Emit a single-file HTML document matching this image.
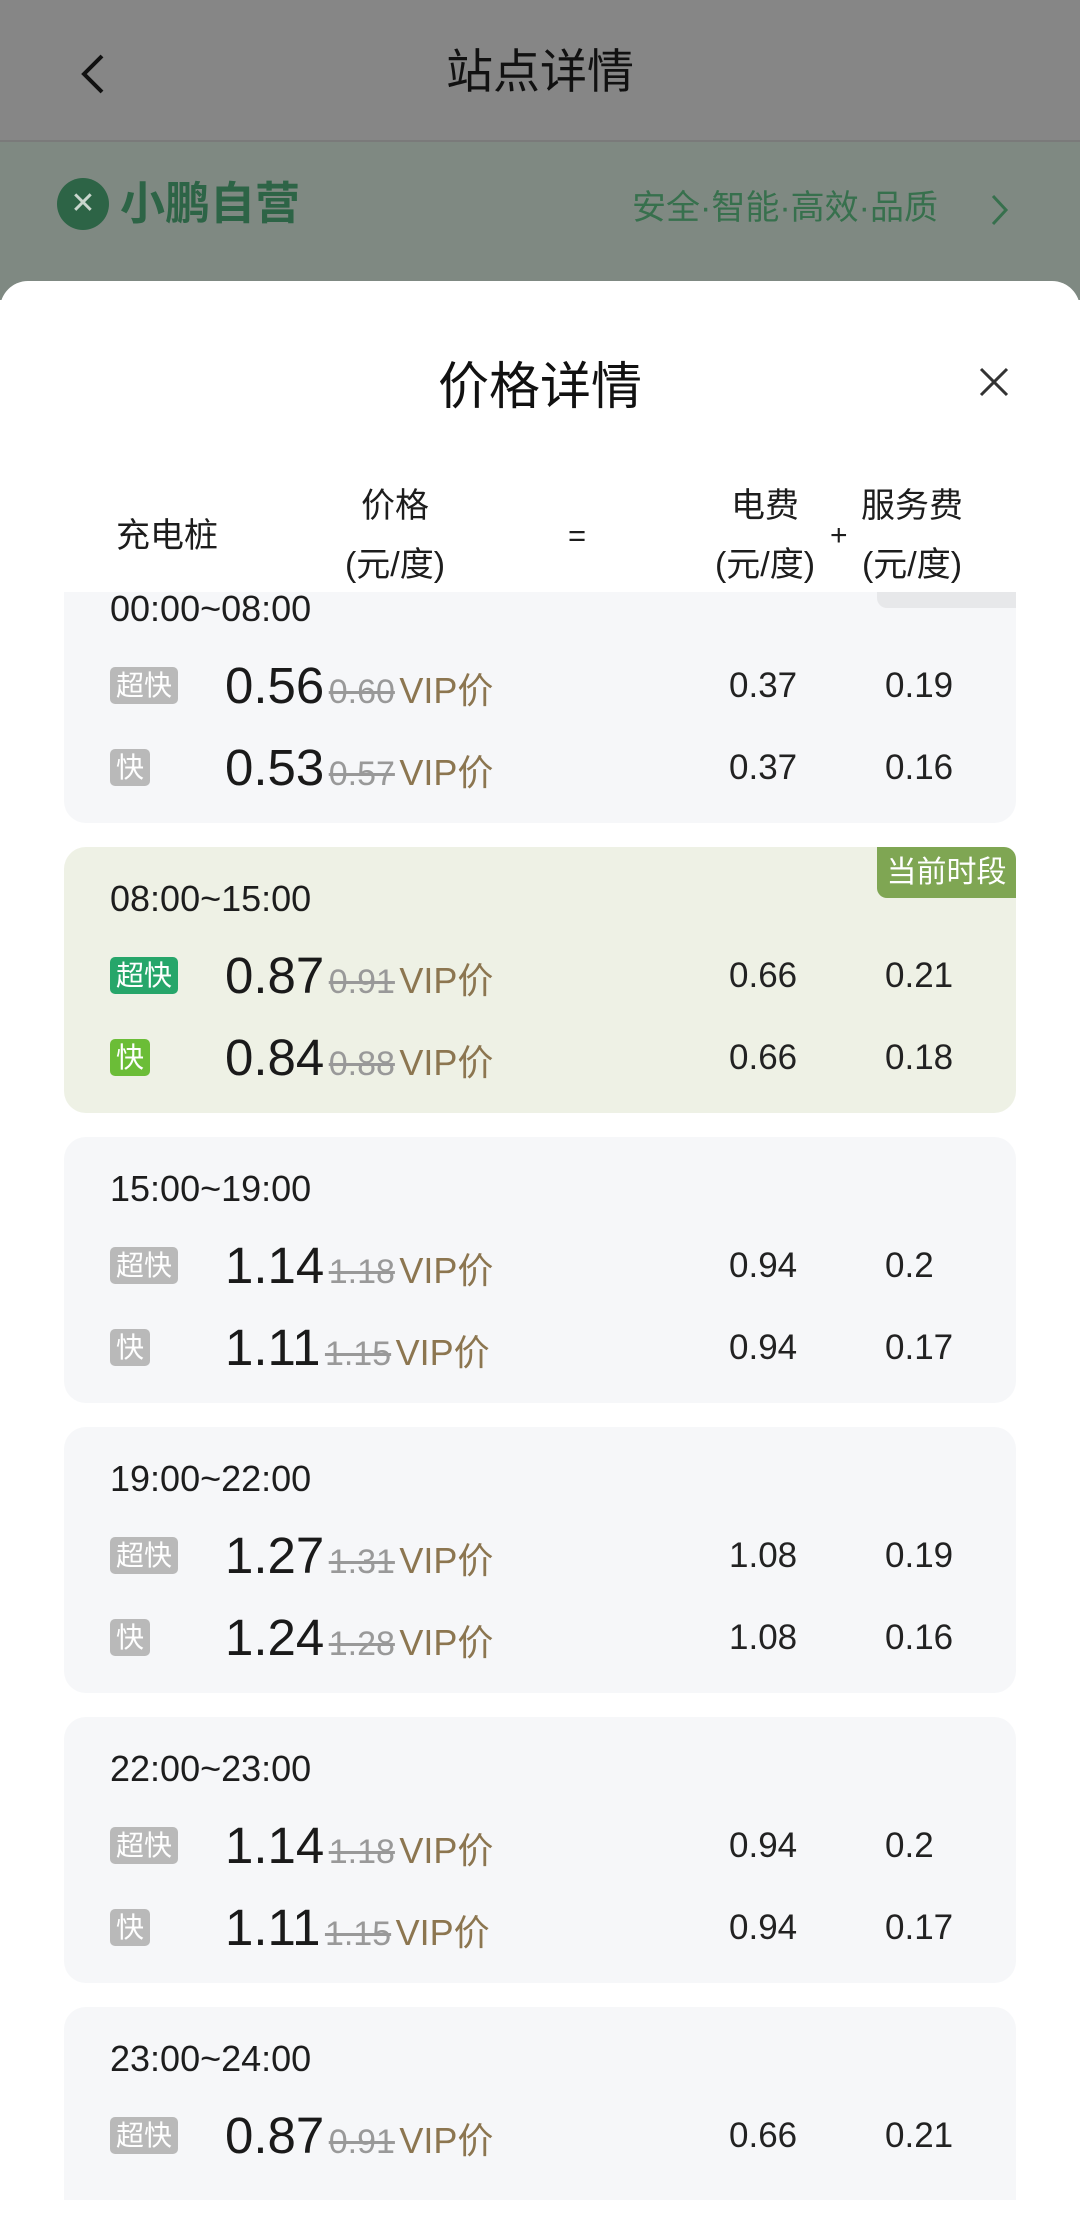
<!DOCTYPE html>
<html style="width:1080px;height:2238px;overflow:hidden"><head><meta charset="utf-8">
<style>
*{margin:0;padding:0;box-sizing:border-box}
body{width:1080px;height:2238px;position:relative;background:#fff;overflow:hidden;font-family:"Liberation Sans","Noto Sans CJK SC",sans-serif;color:#1d1d1d}
.a{position:absolute;white-space:nowrap}
.c{line-height:60px;height:60px}
.card{position:absolute;left:64px;width:952px;height:266px;border-radius:22px;background:#f6f7f9}
.badge{position:absolute;height:37px;line-height:37px;border-radius:5px;color:#fff;font-size:28px;text-align:center;background:#b9b9b9}
.price{font-size:51px;color:#1a1a1a}
.old{font-size:34px;color:#999;text-decoration:line-through}
.vip{font-size:36px;color:#8c7650}
.num{font-size:35px;color:#222}
.t{font-size:36px}
</style></head><body>
<div class="a" style="left:0;top:0;width:1080px;height:141px;background:#868686"></div>
<div class="a" style="left:0;top:140px;width:1080px;height:2px;background:#7a7a7a"></div>
<div class="a" style="left:0;top:142px;width:1080px;height:160px;background:#7f8982"></div>
<svg class="a" style="left:74px;top:52px" width="40" height="44"><polyline points="28,4 10,22 28,40" fill="none" stroke="#111" stroke-width="4"/></svg>
<div class="a c" style="left:0;width:1080px;top:42px;text-align:center;font-size:47px;color:#111">站点详情</div>
<div class="a" style="left:57px;top:178px;width:52px;height:52px;border-radius:50%;background:#2d6446"></div>
<div class="a c" style="left:57px;top:174px;width:52px;text-align:center;color:#c9d6cd;font-size:30px">✕</div>
<div class="a c" style="left:120px;top:174px;font-size:45px;color:#2d6446;font-weight:bold">小鹏自营</div>
<div class="a c" style="left:632px;top:178px;font-size:34px;color:#37704d">安全·智能·高效·品质</div>
<svg class="a" style="left:988px;top:193px" width="24" height="34"><polyline points="5,3 18,17 5,31" fill="none" stroke="#37704d" stroke-width="3"/></svg>

<div class="a" style="left:0;top:281px;width:1080px;height:1957px;background:#fff;border-radius:28px 28px 0 0"></div>

<div class="card" style="top:557px"></div>
<div class="a" style="left:877px;top:557px;width:139px;height:51px;background:#e7e8ea;border-radius:0 10px 0 10px"></div>
<div class="card" style="top:847px;background:#eef1e5"></div>
<div class="a" style="left:877px;top:847px;width:139px;height:51px;line-height:51px;text-align:center;background:#7fa653;color:#fff;font-size:30px;border-radius:0 12px 0 10px">当前时段</div>
<div class="card" style="top:1137px"></div>
<div class="card" style="top:1427px"></div>
<div class="card" style="top:1717px"></div>
<div class="card" style="top:2007px;height:193px;border-radius:22px 22px 0 0"></div>

<div class="a" style="left:0;top:300px;width:1080px;height:292px;background:#fff"></div>
<div class="a c" style="left:0;width:1080px;top:357px;text-align:center;font-size:51px;color:#111">价格详情</div>
<svg class="a" style="left:978px;top:366px" width="32" height="32"><path d="M3,3L29,29M29,3L3,29" stroke="#333" stroke-width="3"/></svg>
<div class="a c" style="left:116px;top:506px;font-size:34px">充电桩</div>
<div class="a c" style="left:295px;width:200px;text-align:center;top:476px;font-size:34px">价格</div>
<div class="a c" style="left:295px;width:200px;text-align:center;top:535px;font-size:34px">(元/度)</div>
<div class="a c" style="left:568px;top:506px;font-size:31px">=</div>
<div class="a c" style="left:665px;width:200px;text-align:center;top:476px;font-size:34px">电费</div>
<div class="a c" style="left:665px;width:200px;text-align:center;top:535px;font-size:34px">(元/度)</div>
<div class="a c" style="left:830px;top:506px;font-size:30px">+</div>
<div class="a c" style="left:812px;width:200px;text-align:center;top:476px;font-size:34px">服务费</div>
<div class="a c" style="left:812px;width:200px;text-align:center;top:535px;font-size:34px">(元/度)</div>

<div class="a c t" style="left:110px;top:579px">00:00~08:00</div>
<div class="badge a" style="left:110px;top:667px;width:68px">超快</div>
<div class="a c" style="left:225px;top:656px"><span class="price">0.56</span> <span class="old">0.60</span> <span class="vip">VIP价</span></div>
<div class="a c num" style="left:729px;top:656px">0.37</div><div class="a c num" style="left:885px;top:656px">0.19</div>
<div class="badge a" style="left:110px;top:749px;width:40px">快</div>
<div class="a c" style="left:225px;top:738px"><span class="price">0.53</span> <span class="old">0.57</span> <span class="vip">VIP价</span></div>
<div class="a c num" style="left:729px;top:738px">0.37</div><div class="a c num" style="left:885px;top:738px">0.16</div>

<div class="a c t" style="left:110px;top:869px">08:00~15:00</div>
<div class="badge a" style="left:110px;top:957px;width:68px;background:#26a66a">超快</div>
<div class="a c" style="left:225px;top:946px"><span class="price">0.87</span> <span class="old">0.91</span> <span class="vip">VIP价</span></div>
<div class="a c num" style="left:729px;top:946px">0.66</div><div class="a c num" style="left:885px;top:946px">0.21</div>
<div class="badge a" style="left:110px;top:1039px;width:40px;background:#6bbd37">快</div>
<div class="a c" style="left:225px;top:1028px"><span class="price">0.84</span> <span class="old">0.88</span> <span class="vip">VIP价</span></div>
<div class="a c num" style="left:729px;top:1028px">0.66</div><div class="a c num" style="left:885px;top:1028px">0.18</div>

<div class="a c t" style="left:110px;top:1159px">15:00~19:00</div>
<div class="badge a" style="left:110px;top:1247px;width:68px">超快</div>
<div class="a c" style="left:225px;top:1236px"><span class="price">1.14</span> <span class="old">1.18</span> <span class="vip">VIP价</span></div>
<div class="a c num" style="left:729px;top:1236px">0.94</div><div class="a c num" style="left:885px;top:1236px">0.2</div>
<div class="badge a" style="left:110px;top:1329px;width:40px">快</div>
<div class="a c" style="left:225px;top:1318px"><span class="price">1.11</span> <span class="old">1.15</span> <span class="vip">VIP价</span></div>
<div class="a c num" style="left:729px;top:1318px">0.94</div><div class="a c num" style="left:885px;top:1318px">0.17</div>

<div class="a c t" style="left:110px;top:1449px">19:00~22:00</div>
<div class="badge a" style="left:110px;top:1537px;width:68px">超快</div>
<div class="a c" style="left:225px;top:1526px"><span class="price">1.27</span> <span class="old">1.31</span> <span class="vip">VIP价</span></div>
<div class="a c num" style="left:729px;top:1526px">1.08</div><div class="a c num" style="left:885px;top:1526px">0.19</div>
<div class="badge a" style="left:110px;top:1619px;width:40px">快</div>
<div class="a c" style="left:225px;top:1608px"><span class="price">1.24</span> <span class="old">1.28</span> <span class="vip">VIP价</span></div>
<div class="a c num" style="left:729px;top:1608px">1.08</div><div class="a c num" style="left:885px;top:1608px">0.16</div>

<div class="a c t" style="left:110px;top:1739px">22:00~23:00</div>
<div class="badge a" style="left:110px;top:1827px;width:68px">超快</div>
<div class="a c" style="left:225px;top:1816px"><span class="price">1.14</span> <span class="old">1.18</span> <span class="vip">VIP价</span></div>
<div class="a c num" style="left:729px;top:1816px">0.94</div><div class="a c num" style="left:885px;top:1816px">0.2</div>
<div class="badge a" style="left:110px;top:1909px;width:40px">快</div>
<div class="a c" style="left:225px;top:1898px"><span class="price">1.11</span> <span class="old">1.15</span> <span class="vip">VIP价</span></div>
<div class="a c num" style="left:729px;top:1898px">0.94</div><div class="a c num" style="left:885px;top:1898px">0.17</div>

<div class="a c t" style="left:110px;top:2029px">23:00~24:00</div>
<div class="badge a" style="left:110px;top:2117px;width:68px">超快</div>
<div class="a c" style="left:225px;top:2106px"><span class="price">0.87</span> <span class="old">0.91</span> <span class="vip">VIP价</span></div>
<div class="a c num" style="left:729px;top:2106px">0.66</div><div class="a c num" style="left:885px;top:2106px">0.21</div>
<div class="a" style="left:0;top:2200px;width:1080px;height:38px;background:#fff"></div>
</body></html>
